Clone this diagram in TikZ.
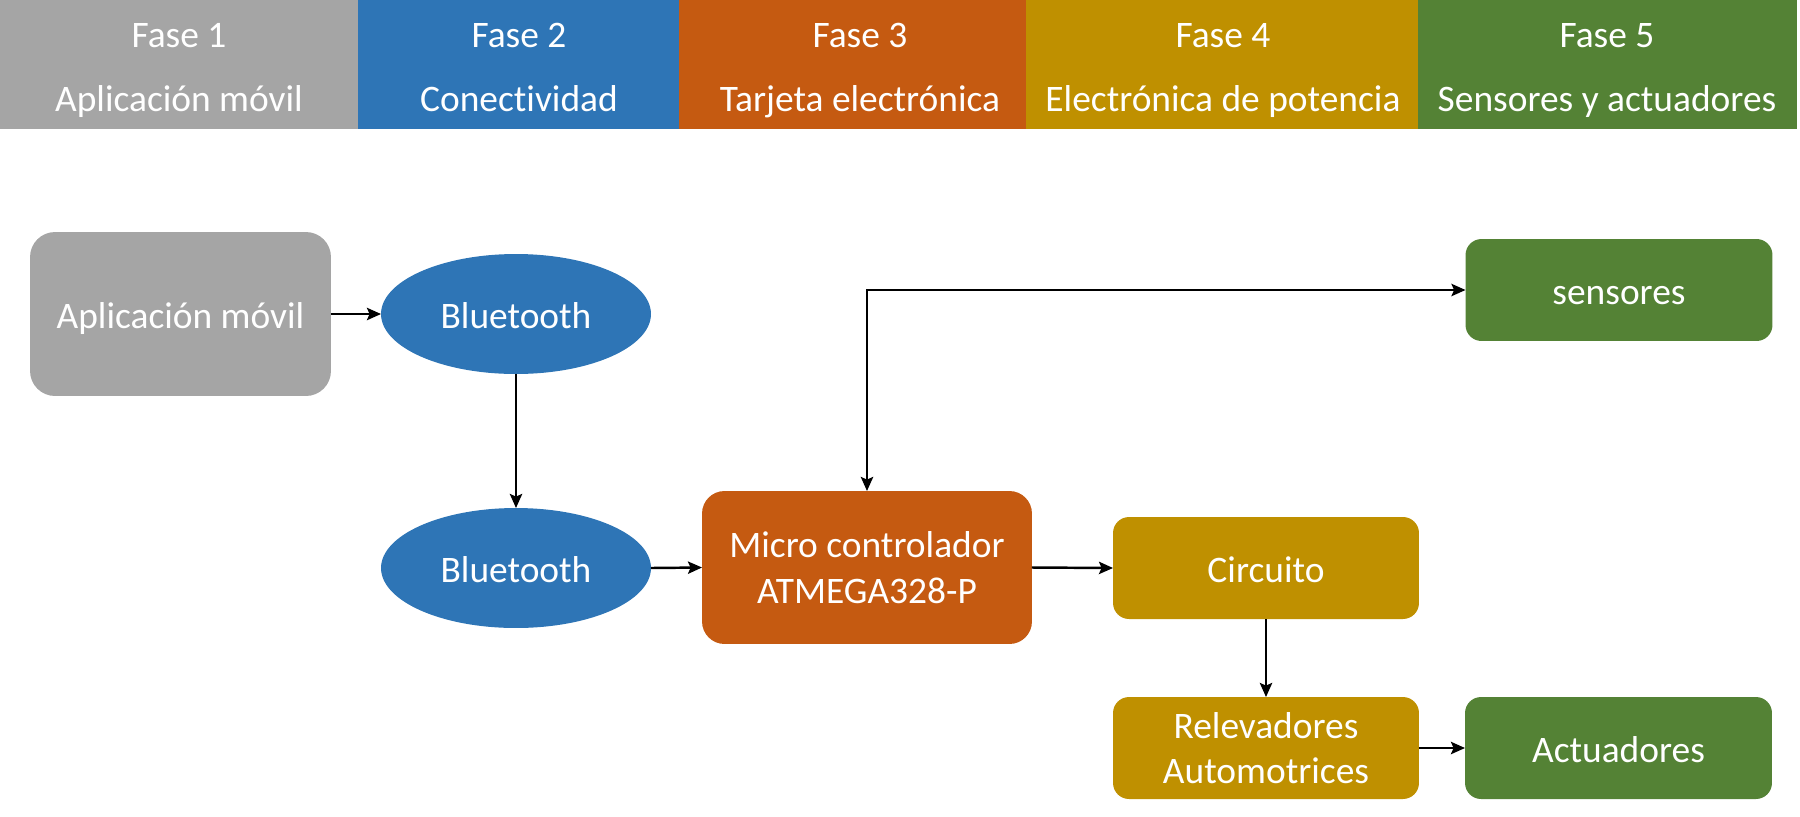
\documentclass[tikz,border=0pt]{standalone}
\usepackage{fontspec}
\setmainfont{Carlito}[Ligatures=NoCommon]
\usetikzlibrary{shapes.geometric, arrows.meta}

\definecolor{gris}{HTML}{A5A5A5}
\definecolor{azul}{HTML}{2E75B6}
\definecolor{naranja}{HTML}{C55A11}
\definecolor{oro}{HTML}{BF9000}
\definecolor{verde}{HTML}{548235}

\newcommand{\letra}{\fontsize{21.3}{26}\selectfont}

\tikzset{
  caja/.style={rectangle, rounded corners=0.32cm, inner sep=0pt, outer sep=0pt,
    text=white, align=center, font=\letra},
  una/.style={text height=17pt, text depth=1pt},
  globo/.style={ellipse, inner sep=0pt, outer sep=0pt, fill=azul, una,
    minimum width=5.4cm, minimum height=2.4cm, text=white, font=\letra},
  titulo/.style={text=white, font=\letra, inner sep=0pt, una},
  flecha/.style={-{Stealth[length=8pt, width=7pt, inset=1.5pt]}, line width=1.4pt},
}

\begin{document}
\begin{tikzpicture}[x=0.02cm, y=-0.02cm]

   \useasboundingbox (0,0) rectangle (1800,816);

   % fases
   \fill [gris](0,0) rectangle (358,129);
   \fill [azul](358,0) rectangle (679,129);
   \fill [naranja](679,0) rectangle (1026,129);
   \fill [oro](1026,0) rectangle (1418,129);
   \fill [verde](1418,0) rectangle (1797,129);

   \node [titulo] (fase1) at (179,33) {Fase 1};
   \node [titulo] (fase2) at (519,33) {Fase 2};
   \node [titulo] (fase3) at (860,33) {Fase 3};
   \node [titulo] (fase4) at (1223,33) {Fase 4};
   \node [titulo] (fase5) at (1607,33) {Fase 5};
   \node [titulo] (tema1) at (179,97) {Aplicación móvil};
   \node [titulo] (tema2) at (519,97) {Conectividad};
   \node [titulo] (tema3) at (860,97) {Tarjeta electrónica};
   \node [titulo] (tema4) at (1223,97) {Electrónica de potencia};
   \node [titulo] (tema5) at (1607,97) {Sensores y actuadores};

   % bloques
   \node [caja, una, fill=gris, rounded corners=0.5cm, minimum width=6.02cm, minimum height=3.28cm]
      (app) at (180.5,314) {Aplicación móvil};
   \node [globo] (bt1) at (516,314) {Bluetooth};
   \node [globo] (bt2) at (516,568) {Bluetooth};
   \node [caja, fill=naranja, rounded corners=0.45cm, minimum width=6.6cm, minimum height=3.06cm]
      (micro) at (867,567.5) {Micro controlador\\ATMEGA328-P};
   \node [caja, una, fill=oro, minimum width=6.12cm, minimum height=2.04cm]
      (circ) at (1266,568) {Circuito};
   \node [caja, fill=oro, minimum width=6.12cm, minimum height=2.04cm]
      (rele) at (1266,748) {Relevadores\\Automotrices};
   \node [caja, una, fill=verde, minimum width=6.14cm, minimum height=2.04cm]
      (act) at (1618.5,748) {Actuadores};
   \node [caja, una, fill=verde, minimum width=6.14cm, minimum height=2.04cm]
      (sens) at (1619,290) {sensores};

   % conexiones
   \draw [flecha](app.east)--(bt1.west);
   \draw [flecha](bt1.south)--(bt2.north);
   \draw [flecha](bt2.east)--(micro.west);
   \draw [flecha](micro.east)--(circ.west);
   \draw [flecha](circ.south)--(rele.north);
   \draw [flecha](rele.east)--(act.west);
   \draw [flecha, {Stealth[length=8pt, width=7pt, inset=1.5pt]}-{Stealth[length=8pt, width=7pt, inset=1.5pt]}](micro.north) |- (sens.west);

\end{tikzpicture}
\end{document}
